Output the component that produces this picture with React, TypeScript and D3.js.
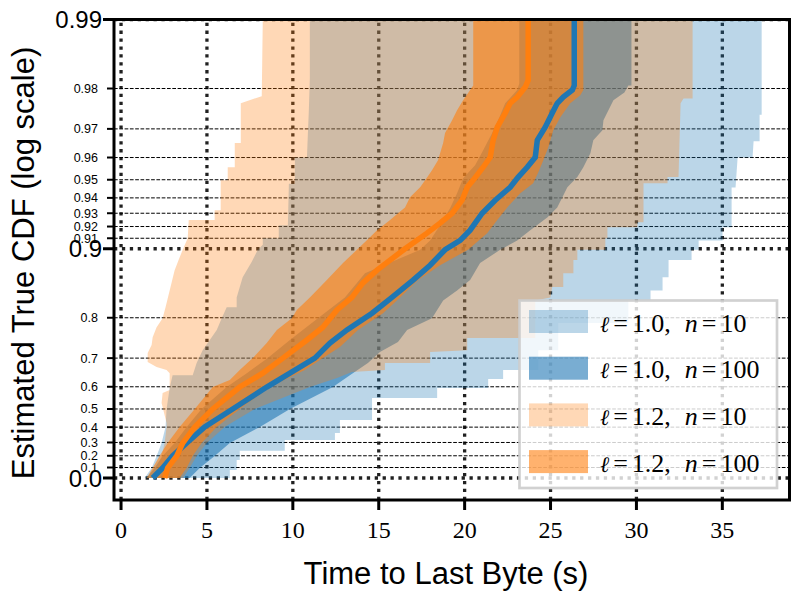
import React from 'react';
import * as d3 from 'd3';

type Pt = [number, number]; // [CDF value, seconds]

const xTicks = [0, 5, 10, 15, 20, 25, 30, 35];
const yMajorTicks = [0.0, 0.9, 0.99];
const yMajorLabels = ['0.0', '0.9', '0.99'];
const yMinorTicks = [0.1, 0.2, 0.3, 0.4, 0.5, 0.6, 0.7, 0.8, 0.91, 0.92, 0.93, 0.94, 0.95, 0.96, 0.97, 0.98];
const yMinorLabels = ['0.1', '0.2', '0.3', '0.4', '0.5', '0.6', '0.7', '0.8', '0.91', '0.92', '0.93', '0.94', '0.95', '0.96', '0.97', '0.98'];

// l=1.0, n=10 band
const l10n10Low: Pt[] = [
  [0, 1.37], [0.096, 1.78], [0.198, 2.07], [0.296, 2.36], [0.401, 2.59], [0.5, 2.65], [0.595, 2.83],
  [0.644, 3.0], [0.644, 4.17], [0.685, 4.4], [0.723, 4.75], [0.774, 5.57], [0.799, 5.86], [0.82, 6.15],
  [0.82, 6.73], [0.837, 6.73], [0.867, 7.08], [0.886, 7.61], [0.899, 7.96], [0.904, 8.25], [0.91, 8.25],
  [0.91, 9.18], [0.921, 9.18], [0.921, 9.71], [0.948, 9.77], [0.948, 10.12], [0.96, 10.12], [0.96, 10.82],
  [0.975, 10.93], [0.982, 10.99], [0.99, 10.99],
];
const l10n10High: Pt[] = [
  [0.99, 37.29], [0.974, 37.29], [0.974, 37.17], [0.966, 37.17], [0.966, 36.82], [0.96, 36.76], [0.96, 35.89],
  [0.946, 35.77], [0.946, 35.54], [0.9195, 35.54], [0.9195, 35.01], [0.908, 35.01], [0.908, 33.62], [0.899, 33.62],
  [0.899, 33.21], [0.888, 33.21], [0.888, 31.87], [0.867, 31.87], [0.867, 31.52], [0.848, 31.52], [0.848, 30.82],
  [0.832, 30.82], [0.832, 29.53], [0.789, 29.53], [0.789, 25.45], [0.723, 25.45], [0.723, 24.29], [0.662, 24.29],
  [0.662, 22.24], [0.63, 22.24], [0.63, 21.37], [0.595, 21.37], [0.595, 18.4], [0.552, 18.4], [0.552, 14.61],
  [0.441, 14.61], [0.441, 12.74], [0.364, 12.74], [0.364, 12.45], [0.317, 12.45], [0.317, 9.53], [0.239, 9.53],
  [0.239, 6.91], [0.165, 6.91], [0.165, 6.73], [0.077, 6.73], [0.077, 6.33], [0, 6.33],
];

// l=1.0, n=100 band
const l10n100Low: Pt[] = [
  [0, 1.49], [0.096, 1.95], [0.198, 2.42], [0.296, 3.12], [0.401, 3.82], [0.5, 4.69], [0.599, 6.15],
  [0.651, 7.32], [0.7, 8.54], [0.75, 9.83], [0.799, 11.46], [0.837, 13.03], [0.872, 14.2], [0.899, 17.41],
  [0.908, 17.99], [0.921, 18.57], [0.9335, 19.15], [0.9428, 19.56], [0.9508, 19.91], [0.9568, 20.61],
  [0.9628, 21.08], [0.9687, 21.6], [0.9725, 21.95], [0.9768, 22.36], [0.9797, 23.06], [0.981, 23.18], [0.99, 23.18],
];
const l10n100High: Pt[] = [
  [0.99, 29.71], [0.9806, 29.71], [0.9806, 29.53], [0.9792, 29.3], [0.9775, 28.66], [0.9751, 28.37],
  [0.9725, 28.08], [0.9696, 28.02], [0.9664, 27.49], [0.9617, 27.32], [0.9559, 26.91], [0.9513, 26.56],
  [0.9461, 25.98], [0.9404, 25.69], [0.934, 25.39], [0.927, 24.81], [0.917, 23.82], [0.908, 23.06],
  [0.899, 22.07], [0.8845, 20.9], [0.863, 20.32], [0.848, 19.56], [0.832, 18.75], [0.799, 18.1],
  [0.774, 16.65], [0.745, 16.12], [0.718, 15.07], [0.685, 14.37], [0.644, 13.32], [0.599, 12.33],
  [0.5, 9.83], [0.401, 8.08], [0.296, 6.33], [0.198, 5.45], [0.096, 4.58], [0, 3.99],
];
const l10Median: Pt[] = [
  [0, 1.84], [0.096, 2.42], [0.198, 3.0], [0.296, 3.82], [0.401, 4.87], [0.5, 6.5], [0.599, 8.48],
  [0.651, 9.83], [0.7, 11.28], [0.742, 12.16], [0.774, 13.15], [0.809, 14.61], [0.837, 15.77], [0.863, 17.0],
  [0.882, 17.99], [0.899, 18.86], [0.908, 19.74], [0.917, 20.32], [0.93, 21.02], [0.9386, 21.78],
  [0.9461, 22.65], [0.9513, 23.12], [0.9559, 23.64], [0.9601, 24.11], [0.9664, 24.23], [0.9705, 24.69],
  [0.9744, 25.1], [0.9768, 25.39], [0.9782, 25.74], [0.9797, 26.27], [0.9806, 26.38], [0.99, 26.38],
];

// l=1.2, n=10 band
const l12n10Low: Pt[] = [
  [0, 1.95], [0.096, 2.13], [0.198, 2.36], [0.296, 2.54], [0.401, 2.65], [0.424, 2.65], [0.529, 2.36],
  [0.574, 2.42], [0.587, 2.83], [0.651, 2.83], [0.662, 2.65], [0.672, 2.07], [0.688, 1.55], [0.715, 1.55],
  [0.737, 1.78], [0.757, 1.84], [0.78, 2.07], [0.799, 2.42], [0.82, 2.59], [0.848, 2.83], [0.876, 3.12],
  [0.888, 3.35], [0.899, 3.59], [0.91, 3.88], [0.925, 3.94], [0.925, 5.45], [0.932, 5.45], [0.932, 5.8],
  [0.9498, 5.8], [0.9498, 6.21], [0.9559, 6.21], [0.9559, 6.62], [0.9654, 6.62], [0.9654, 6.97],
  [0.9768, 6.97], [0.9784, 8.19], [0.99, 8.25],
];
const l12n10High: Pt[] = [
  [0.99, 33.27], [0.9779, 33.27], [0.9779, 32.74], [0.9768, 32.57], [0.9513, 32.45], [0.9513, 31.81],
  [0.9482, 31.81], [0.9482, 30.41], [0.9234, 30.41], [0.9234, 30.06], [0.9195, 30.06], [0.9195, 28.31],
  [0.91, 28.31], [0.91, 28.19], [0.899, 28.19], [0.899, 26.56], [0.888, 26.56], [0.888, 26.33],
  [0.872, 26.33], [0.872, 25.74], [0.853, 25.74], [0.853, 25.1], [0.837, 24.99], [0.832, 24.11],
  [0.755, 24.11], [0.755, 20.15], [0.723, 20.15], [0.718, 17.99], [0.685, 17.99], [0.685, 15.36],
  [0.662, 15.36], [0.655, 13.44], [0.634, 12.57], [0.599, 10.99], [0.5, 7.78], [0.401, 6.03],
  [0.296, 4.99], [0.198, 4.4], [0.096, 3.99], [0, 3.59],
];

// l=1.2, n=100 band
const l12n100Low: Pt[] = [
  [0, 1.49], [0.096, 1.84], [0.198, 2.24], [0.296, 2.71], [0.401, 3.41], [0.5, 4.29], [0.599, 5.34],
  [0.626, 6.33], [0.662, 6.91], [0.7, 7.67], [0.742, 8.48], [0.774, 9.07], [0.799, 9.94], [0.815, 10.23],
  [0.837, 10.99], [0.863, 11.98], [0.8845, 12.92], [0.899, 13.73], [0.911, 14.49], [0.917, 14.9],
  [0.925, 15.66], [0.93, 16.12], [0.934, 16.53], [0.9404, 16.82], [0.9461, 17.41], [0.9498, 17.7],
  [0.9545, 18.1], [0.9589, 18.45], [0.9654, 18.75], [0.9687, 18.86], [0.9725, 19.27], [0.9751, 19.56],
  [0.9775, 19.91], [0.9797, 20.32], [0.9806, 20.5], [0.99, 20.5],
];
const l12n100High: Pt[] = [
  [0.99, 26.91], [0.9797, 26.91], [0.9786, 26.73], [0.9768, 26.15], [0.9733, 25.57], [0.9696, 25.16],
  [0.9639, 24.87], [0.9589, 24.58], [0.9536, 24.29], [0.9482, 23.99], [0.9428, 23.24], [0.934, 22.48],
  [0.925, 21.9], [0.9145, 21.31], [0.899, 20.2], [0.882, 18.57], [0.863, 17.29], [0.837, 16.24],
  [0.809, 15.25], [0.774, 13.79], [0.732, 12.74], [0.694, 11.57], [0.662, 10.7], [0.599, 8.66],
  [0.5, 6.91], [0.401, 5.57], [0.296, 4.69], [0.198, 4.17], [0.096, 3.82], [0, 3.41],
];
const l12Median: Pt[] = [
  [0, 2.54], [0.096, 2.71], [0.198, 3.24], [0.296, 3.59], [0.401, 4.29], [0.5, 5.34], [0.599, 6.91],
  [0.651, 8.25], [0.7, 9.42], [0.75, 10.82], [0.78, 11.75], [0.815, 12.57], [0.837, 13.44], [0.859, 14.08],
  [0.876, 14.9], [0.9, 16.53], [0.9145, 17.81], [0.9227, 18.57], [0.93, 19.27], [0.9386, 19.85],
  [0.9461, 20.15], [0.9498, 20.5], [0.9559, 21.08], [0.9601, 21.49], [0.9664, 21.66], [0.9705, 21.9],
  [0.9744, 22.36], [0.9768, 22.65], [0.9782, 23.06], [0.9803, 23.53], [0.9816, 23.7], [0.99, 23.7],
];

const legendL = ['1.0', '1.0', '1.2', '1.2'];
const legendN = ['10', '100', '10', '100'];

const C0 = '#1f77b4';
const C1 = '#ff7f0e';

export default function App() {
  const L = 114, R = 789.5, T = 19.5, B = 500;
  const x = d3.scaleLinear().domain([-0.41, 38.91]).range([L, R]);
  const yT = d3.scaleLinear().domain([-0.096, 2]).range([B, T]);
  const yp = (p: number) => yT(-Math.log10(1 - p));
  const line = d3.line<Pt>().x((d) => x(d[1])).y((d) => yp(d[0]));
  const band = (lo: Pt[], hi: Pt[]) => (line([...lo, ...hi]) || '') + 'Z';

  const sans = 'Liberation Sans, Arial, sans-serif';
  const serif = 'Liberation Serif, Times New Roman, serif';

  const legendFill = [
    { c: C0, o: 0.3 },
    { c: C0, o: 0.6 },
    { c: C1, o: 0.3 },
    { c: C1, o: 0.6 },
  ];

  return (
    <svg width={800} height={600} style={{ position: 'absolute', left: 0, top: 0, background: '#fff' }}>
      <defs>
        <clipPath id="plotclip">
          <rect x={L} y={T} width={R - L} height={B - T} />
        </clipPath>
      </defs>
      <rect x={0} y={0} width={800} height={600} fill="#fff" />
      {/* grid */}
      <g clipPath="url(#plotclip)">
        {yMinorTicks.map((p) => (
          <line key={'mg' + p} x1={L} x2={R} y1={yp(p)} y2={yp(p)} stroke="#000" strokeWidth={1} strokeDasharray="3.7 1.6" />
        ))}
        {yMajorTicks.map((p) => (
          <line key={'Mg' + p} x1={L} x2={R} y1={yp(p)} y2={yp(p)} stroke="#000" strokeOpacity={0.87} strokeWidth={3.3} strokeDasharray="3.3 4.6" />
        ))}
        {xTicks.map((t) => (
          <line key={'xg' + t} x1={x(t)} x2={x(t)} y1={B} y2={T} stroke="#000" strokeOpacity={0.87} strokeWidth={3.3} strokeDasharray="3.3 4.6" />
        ))}
      </g>
      {/* bands */}
      <g clipPath="url(#plotclip)">
        <path d={band(l10n10Low, l10n10High)} fill={C0} fillOpacity={0.3} />
        <path d={band(l10n100Low, l10n100High)} fill={C0} fillOpacity={0.6} />
        <path d={band(l12n10Low, l12n10High)} fill={C1} fillOpacity={0.3} />
        <path d={band(l12n100Low, l12n100High)} fill={C1} fillOpacity={0.6} />
        <path d={line(l10Median) || ''} fill="none" stroke={C0} strokeWidth={5.5} />
        <path d={line(l12Median) || ''} fill="none" stroke={C1} strokeWidth={5.5} />
      </g>
      {/* spines */}
      <rect x={L} y={T} width={R - L} height={B - T} fill="none" stroke="#000" strokeWidth={3} />
      {/* x ticks */}
      {xTicks.map((t) => (
        <g key={'xt' + t}>
          <line x1={x(t)} x2={x(t)} y1={B} y2={B + 10} stroke="#000" strokeWidth={3} />
          <text x={x(t)} y={538} textAnchor="middle" fontFamily={serif} fontSize={24}>{t}</text>
        </g>
      ))}
      {/* y ticks */}
      {yMinorTicks.map((p, i) => (
        <g key={'yt' + p}>
          <line x1={L - 7} x2={L} y1={yp(p)} y2={yp(p)} stroke="#000" strokeWidth={2} />
          <text x={98} y={yp(p)} dy="0.36em" textAnchor="end" fontFamily={sans} fontSize={12.5}>{yMinorLabels[i]}</text>
        </g>
      ))}
      {yMajorTicks.map((p, i) => (
        <g key={'yM' + p}>
          <line x1={L - 11} x2={L} y1={yp(p)} y2={yp(p)} stroke="#000" strokeWidth={3} />
          <text x={102} y={yp(p)} dy="0.36em" textAnchor="end" fontFamily={sans} fontSize={24}>{yMajorLabels[i]}</text>
        </g>
      ))}
      {/* axis labels */}
      <text x={446} y={584} textAnchor="middle" fontFamily={sans} fontSize={31}>Time to Last Byte (s)</text>
      <text transform={`translate(34,263) rotate(-90)`} textAnchor="middle" fontFamily={sans} fontSize={31}>
        Estimated True CDF (log scale)
      </text>
      {/* legend */}
      <g>
        <rect x={519.5} y={300.5} width={257.5} height={187.5} fill="#fff" fillOpacity={0.8} stroke="#ccc" strokeOpacity={0.9} strokeWidth={2.7} />
        {legendL.map((lv, i) => {
          const cy = 321.5 + i * 46.7;
          return (
            <g key={'lg' + i}>
              <rect x={529} y={cy - 11.5} width={59} height={23} fill={legendFill[i].c} fillOpacity={legendFill[i].o} />
              <text x={600} y={cy + 10} fontFamily={serif} fontSize={26}>
                <tspan fontFamily="DejaVu Serif" fontStyle="italic" fontSize={22}>ℓ</tspan>
                <tspan dx={4}>=</tspan>
                <tspan dx={4}>{lv + ','}</tspan>
                <tspan dx={14} fontStyle="italic">n</tspan>
                <tspan dx={4}>=</tspan>
                <tspan dx={4}>{legendN[i]}</tspan>
              </text>
            </g>
          );
        })}
      </g>
    </svg>
  );
}
